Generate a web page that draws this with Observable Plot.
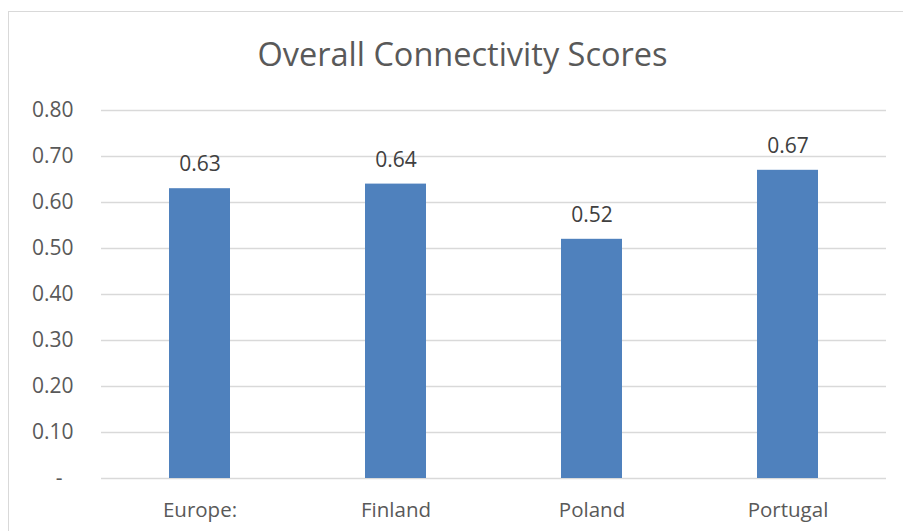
<!DOCTYPE html>
<html>
<head>
<meta charset="utf-8">
<script src="https://cdn.jsdelivr.net/npm/d3@7"></script>
<script src="https://cdn.jsdelivr.net/npm/@observablehq/plot@0.6"></script>
<style>
  html, body { margin: 0; padding: 0; background: #fff; }
  body { width: 903px; height: 531px; position: relative; overflow: hidden; font-family: "Open Sans", "Noto Sans", sans-serif; }
  #frame { position: absolute; left: 8px; top: 11px; width: 1000px; height: 1000px; border: 1px solid #d9d9d9; box-sizing: border-box; }
  #title { position: absolute; left: 11px; width: 903px; top: 38px; text-align: center; font-size: 32.5px; color: #595959; line-height: 1; white-space: nowrap; }
  #chart { position: absolute; left: 0; top: 90px; }
</style>
</head>
<body>
<div id="frame"></div>
<div id="title">Overall Connectivity Scores</div>
<div id="chart"></div>
<script>
const categories = ["Europe:", "Finland", "Poland", "Portugal"];
const scores = [0.63, 0.64, 0.52, 0.67];
const yTicks = [0, 0.1, 0.2, 0.3, 0.4, 0.5, 0.6, 0.7, 0.8];

const data = categories.map((c, i) => ({category: c, score: scores[i]}));
const fmt = d => d === 0 ? "-\u00a0\u00a0" : d3.format(".2f")(d);

const chart = Plot.plot({
  width: 903,
  height: 441,
  marginLeft: 101,
  marginRight: 17,
  marginTop: 20,
  marginBottom: 53,
  style: {fontFamily: "'Open Sans', 'Noto Sans', sans-serif", fontSize: "20.5px", color: "#595959", background: "transparent"},
  x: {domain: categories, paddingInner: 0.687, paddingOuter: 0.3435, label: null},
  y: {domain: [0, 0.8], label: null},
  marks: [
    Plot.gridY(yTicks, {stroke: "#d9d9d9", strokeOpacity: 1, strokeWidth: 1.5}),
    Plot.barY(data, {x: "category", y: "score", fill: "#4f81bd"}),
    Plot.text(data, {x: "category", y: "score", text: d => d3.format(".2f")(d.score), dy: -24, fill: "#404040", fontSize: 21}),
    Plot.axisX({tickSize: 0, tickPadding: 24, fontSize: 20.5, fill: "#595959"}),
    Plot.axisY(yTicks, {tickSize: 0, tickPadding: 28, fontSize: 21, fill: "#595959", tickFormat: fmt})
  ]
});
document.getElementById("chart").appendChild(chart);
</script>
</body>
</html>
